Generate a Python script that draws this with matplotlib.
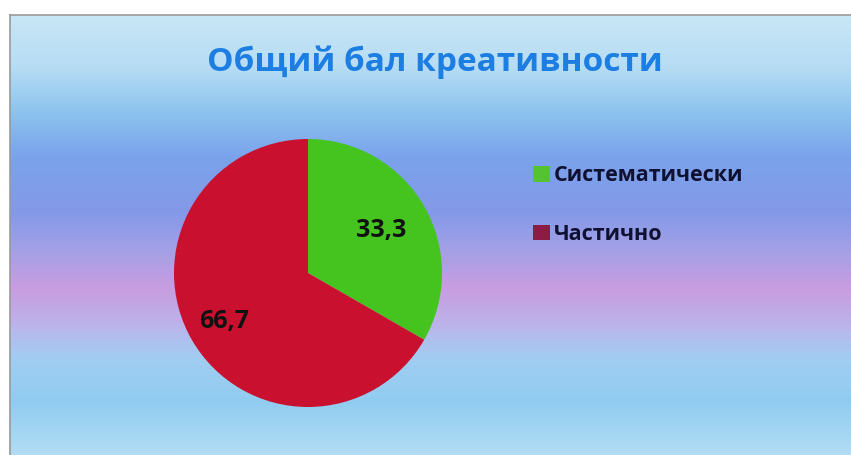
import numpy as np
import matplotlib.pyplot as plt
from matplotlib.colors import LinearSegmentedColormap
from matplotlib.patches import Patch

# chart data
categories = ["Систематически", "Частично"]
values = [33.3, 66.7]
value_labels = ["33,3", "66,7"]
slice_colors = ["#45C41F", "#C9102F"]
legend_colors = ["#55C232", "#8E1B45"]
title = "Общий бал креативности"

W, H = 851, 455
fig = plt.figure(figsize=(W / 100, H / 100), dpi=100)
fig.patch.set_facecolor("white")

# scanned slide background: vertical colour gradient
bg = fig.add_axes([10 / W, 0, (W - 10) / W, (H - 15) / H])
stops = [
    (0.00, "#C8E6F6"),
    (0.12, "#B6DCF4"),
    (0.22, "#8CC4EE"),
    (0.32, "#7AA3EC"),
    (0.45, "#8499E8"),
    (0.54, "#A6A0E6"),
    (0.62, "#C89CE0"),
    (0.70, "#BDB2EA"),
    (0.78, "#A2CDF2"),
    (0.88, "#90CCF0"),
    (1.00, "#B2DCF4"),
]
cmap = LinearSegmentedColormap.from_list("slide", stops)
grad = np.linspace(0, 1, 256).reshape(-1, 1)
bg.imshow(grad, cmap=cmap, aspect="auto", extent=[0, 1, 1, 0])
bg.set_xlim(0, 1)
bg.set_ylim(1, 0)
bg.set_xticks([])
bg.set_yticks([])
for side in ["right", "bottom"]:
    bg.spines[side].set_visible(False)
for side in ["top", "left"]:
    bg.spines[side].set_color("#9A9A9A")
    bg.spines[side].set_linewidth(1.2)

fig.text(435 / W, 1 - 62 / H, title, ha="center", va="center",
         fontsize=24, fontweight="bold", color="#1C7EE2", family="Open Sans")

# pie
cx, cy, r = 308, 273, 134
ax = fig.add_axes([(cx - r) / W, (H - cy - r) / H, 2 * r / W, 2 * r / H])
wedges, _ = ax.pie(values, colors=slice_colors, startangle=90,
                   counterclock=False, radius=1)
ax.set_xlim(-1, 1)
ax.set_ylim(-1, 1)
ax.axis("off")

label_dist = [0.63, 0.72]
for w, txt, d in zip(wedges, value_labels, label_dist):
    mid = np.deg2rad((w.theta1 + w.theta2) / 2)
    ax.text(d * np.cos(mid), d * np.sin(mid), txt, ha="center", va="center",
            fontsize=18, fontweight="bold", color="#111111", family="Open Sans")

handles = [Patch(facecolor=c, edgecolor="none") for c in legend_colors]
leg = fig.legend(handles, categories, loc="upper left",
                 bbox_to_anchor=(514 / W, 1 - 146 / H), frameon=False,
                 prop={"family": "Open Sans", "weight": "bold", "size": 15.5},
                 handlelength=0.75, handleheight=0.75, handletextpad=0.2,
                 labelspacing=1.75)
for t in leg.get_texts():
    t.set_color("#101030")

fig.savefig("out.png", dpi=100)
